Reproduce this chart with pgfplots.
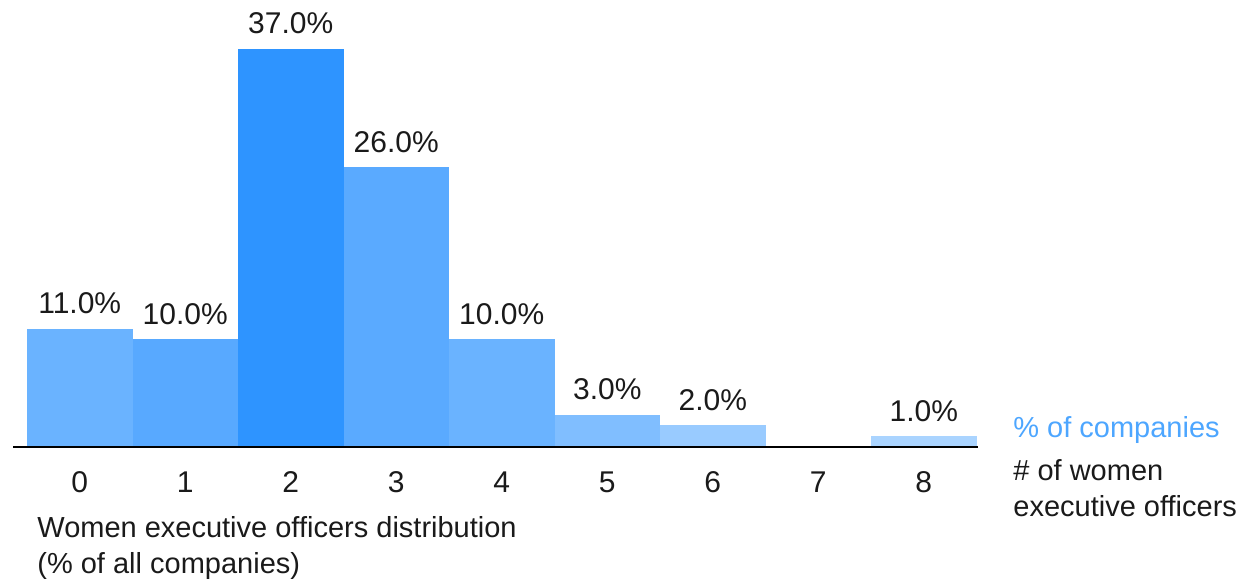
\documentclass[border=0pt]{standalone}
\usepackage{pgfplots}
\pgfplotsset{compat=1.18}
\usepackage{fontspec}
\setmainfont{Liberation Sans}
\definecolor{c0}{HTML}{6AB3FF}
\definecolor{c1}{HTML}{58A9FF}
\definecolor{c2}{HTML}{2E94FF}
\definecolor{c3}{HTML}{5AAAFF}
\definecolor{c4}{HTML}{6AB3FF}
\definecolor{c5}{HTML}{80BEFF}
\definecolor{c6}{HTML}{99CBFF}
\definecolor{c8}{HTML}{AAD4FF}
\definecolor{legblue}{HTML}{4DA6FF}
\definecolor{txt}{HTML}{1A1A1A}
\begin{document}
\begin{tikzpicture}[x=1pt,y=1pt]
\path[use as bounding box] (0,0) rectangle (630,290.5);
\begin{axis}[
  at={(6.5pt,67pt)}, anchor=south west,
  scale only axis, width=482.5pt, height=199pt,
  xmin=-0.6327, xmax=8.514, ymin=0, ymax=37,
  axis x line=bottom, axis y line=none,
  axis on top,
  axis line style={black, line width=1.3pt, -},
  xtick={0,1,2,3,4,5,6,7,8},
  xtick style={draw=none},
  xticklabel style={anchor=base, yshift=-20.5pt, font=\fontsize{15}{18}\selectfont, text=txt},
  /pgf/number format/assume math mode=true,
  clip=false,
  nodes near coords={\pgfmathprintnumber[fixed,fixed zerofill,precision=1]{\pgfplotspointmeta}\%},
  every node near coord/.append style={anchor=base, yshift=7.5pt, inner sep=0pt, font=\fontsize{15}{18}\selectfont, text=txt},
]
\addplot[ybar, bar width=1, fill=c0, draw=none] coordinates {(0,11)};
\addplot[ybar, bar width=1, fill=c1, draw=none] coordinates {(1,10)};
\addplot[ybar, bar width=1, fill=c2, draw=none] coordinates {(2,37)};
\addplot[ybar, bar width=1, fill=c3, draw=none] coordinates {(3,26)};
\addplot[ybar, bar width=1, fill=c4, draw=none] coordinates {(4,10)};
\addplot[ybar, bar width=1, fill=c5, draw=none] coordinates {(5,3)};
\addplot[ybar, bar width=1, fill=c6, draw=none] coordinates {(6,2)};
\addplot[ybar, bar width=1, fill=c8, draw=none] coordinates {(8,1)};
\end{axis}
\node[anchor=base west, inner sep=0pt, font=\fontsize{14.5}{17}\selectfont, text=legblue] at (506.5,71.5) {\% of companies};
\node[anchor=base west, inner sep=0pt, font=\fontsize{14.5}{17}\selectfont, text=txt] at (506.5,50) {\# of women};
\node[anchor=base west, inner sep=0pt, font=\fontsize{14.5}{17}\selectfont, text=txt] at (506.5,32) {executive officers};
\node[anchor=base west, inner sep=0pt, font=\fontsize{14.5}{17}\selectfont, text=txt] at (18.5,21.5) {Women executive officers distribution};
\node[anchor=base west, inner sep=0pt, font=\fontsize{14.5}{17}\selectfont, text=txt] at (18.5,3.5) {(\% of all companies)};
\end{tikzpicture}
\end{document}
